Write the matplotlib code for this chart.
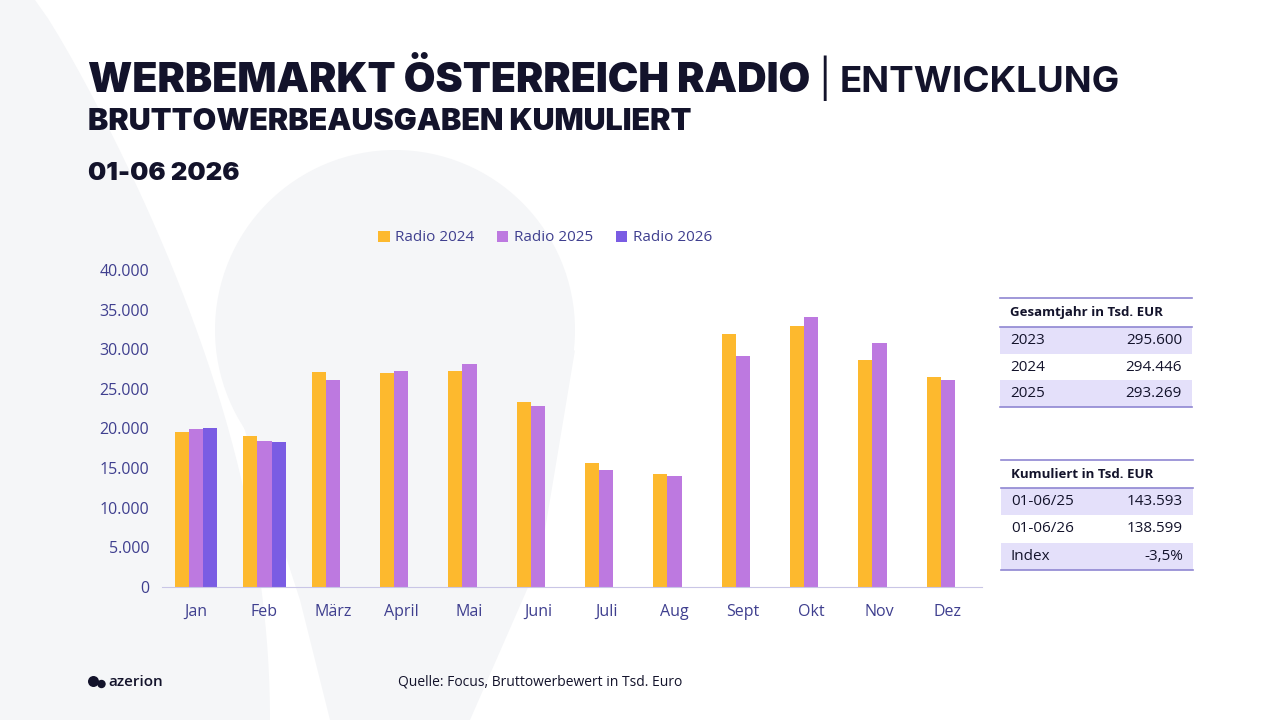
import matplotlib
matplotlib.use('Agg')
import matplotlib.pyplot as plt
from matplotlib.patches import Circle, Polygon, Rectangle
import numpy as np

# data
months = ['Jan', 'Feb', 'März', 'April', 'Mai', 'Juni', 'Juli', 'Aug', 'Sept', 'Okt', 'Nov', 'Dez']
radio_2024 = [19560, 19090, 27100, 27000, 27300, 23400, 15600, 14200, 31900, 32900, 28600, 26500]
radio_2025 = [19940, 18420, 26100, 27300, 28100, 22900, 14800, 14050, 29150, 34070, 30800, 26100]
radio_2026 = [20060, 18300]
series_names = ['Radio 2024', 'Radio 2025', 'Radio 2026']
yticks = [0, 5000, 10000, 15000, 20000, 25000, 30000, 35000, 40000]
ytick_labels = ['0', '5.000', '10.000', '15.000', '20.000', '25.000', '30.000', '35.000', '40.000']

gesamt_header = 'Gesamtjahr in Tsd. EUR'
gesamt_rows = [('2023', '295.600'), ('2024', '294.446'), ('2025', '293.269')]
kum_header = 'Kumuliert in Tsd. EUR'
kum_rows = [('01-06/25', '143.593'), ('01-06/26', '138.599'), ('Index', '-3,5%')]

title_main = 'WERBEMARKT ÖSTERREICH RADIO'
title_side = 'ENTWICKLUNG'
subtitle = 'BRUTTOWERBEAUSGABEN KUMULIERT'
period = '01-06 2026'
source = 'Quelle: Focus, Bruttowerbewert in Tsd. Euro'

colors = ['#FDB92E', '#BD79E0', '#7A5CE3']
navy = '#13132B'
tick_c = '#3F3F8F'
line_c = '#8F86D2'
shade_c = '#E4E0FA'
bg_c = '#F5F6F8'

plt.rcParams['font.family'] = ['Open Sans', 'DejaVu Sans']
head_font = ['Inter', 'DejaVu Sans']

fig = plt.figure(figsize=(12.8, 7.2), dpi=100)

# background layer in pixel coords
bg = fig.add_axes([0, 0, 1, 1], zorder=0)
bg.set_xlim(0, 1280)
bg.set_ylim(720, 0)
bg.axis('off')

# faint logo shapes behind the chart
t = np.linspace(0, 1, 40)
curve_x = 35 + 235 * np.sin(t * np.pi / 2) ** 0.9
curve_y = 720 * t
left_shape = list(zip(curve_x, curve_y)) + [(0, 720), (0, 0)]
bg.add_patch(Polygon(left_shape, closed=True, color=bg_c, lw=0))
bg.add_patch(Circle((395, 330), 180, color=bg_c, lw=0))
tail = [(235, 400), (330, 480), (420, 500), (575, 350), (540, 560), (470, 720), (330, 720),
        (300, 600)]
bg.add_patch(Polygon(tail, closed=True, color=bg_c, lw=0))


def draw_table(ax, x0, x1, top, header, rows, header_h, row_h):
    ax.plot([x0, x1], [top, top], color=line_c, lw=1.2)
    ax.text(x0 + 10, top + header_h / 2, header, fontweight='bold', va='center',
            fontsize=9.5, color=navy)
    y = top + header_h
    ax.plot([x0, x1], [y, y], color=line_c, lw=1.2)
    for i, (a, b) in enumerate(rows):
        if i % 2 == 0:
            ax.add_patch(Rectangle((x0, y), x1 - x0, row_h, color=shade_c, lw=0))
        ax.text(x0 + 10, y + row_h / 2, a, va='center', fontsize=11, color=navy)
        ax.text(x1 - 10, y + row_h / 2, b, va='center', ha='right', fontsize=11, color=navy)
        y += row_h
    ax.plot([x0, x1], [y, y], color=line_c, lw=1.2)


draw_table(bg, 1000, 1192, 298, gesamt_header, gesamt_rows, 29, 26.7)
draw_table(bg, 1001, 1193, 460, kum_header, kum_rows, 28, 27.3)

# titles
bg.text(88, 92, title_main, fontsize=29.5, fontweight='black', color=navy, family=head_font)
bg.text(818, 92, '|', fontsize=27, color=navy, family=head_font)
bg.text(840, 92, title_side, fontsize=26.5, fontweight='bold', color=navy, family=head_font)
bg.text(88, 130, subtitle, fontsize=22, fontweight='black', color=navy, family=head_font)
bg.text(88, 180, period, fontsize=18.5, fontweight='black', color=navy, family=head_font)

# footer
bg.add_patch(Circle((93.5, 681.5), 5.5, color=navy, lw=0))
bg.add_patch(Circle((101.5, 684), 4.2, color=navy, lw=0))
bg.text(108, 682, 'azerion', fontsize=11, fontweight='semibold', color=navy, va='center')
bg.text(398, 682, source, fontsize=10, color=navy, va='center')

# chart
ax = fig.add_axes([162 / 1280, 133 / 720, 820 / 1280, 317 / 720], zorder=1)
ax.patch.set_alpha(0)
x = np.arange(len(months))
w = 0.205
all_series = [radio_2024, radio_2025, radio_2026]
for k, (vals, name, c) in enumerate(zip(all_series, series_names, colors)):
    ax.bar(x[:len(vals)] + (k - 1) * w, vals, width=w, color=c, label=name, lw=0)

ax.set_xlim(-0.5, 11.5)
ax.set_ylim(0, 40000)
ax.set_yticks(yticks)
ax.set_yticklabels(ytick_labels)
ax.set_xticks(x)
ax.set_xticklabels(months)
for s in ['top', 'right', 'left']:
    ax.spines[s].set_visible(False)
ax.spines['bottom'].set_color('#C9C6E6')
ax.tick_params(axis='both', length=0, colors=tick_c, labelsize=11.5)
ax.tick_params(axis='y', pad=9)
ax.tick_params(axis='x', pad=12)

fig.legend(loc='center', bbox_to_anchor=(545 / 1280, 1 - 238 / 720), ncol=3, frameon=False,
           handlelength=0.75, handleheight=0.75, handletextpad=0.35, columnspacing=1.5,
           labelcolor=tick_c, fontsize=11)

fig.savefig('out.png', dpi=100)
